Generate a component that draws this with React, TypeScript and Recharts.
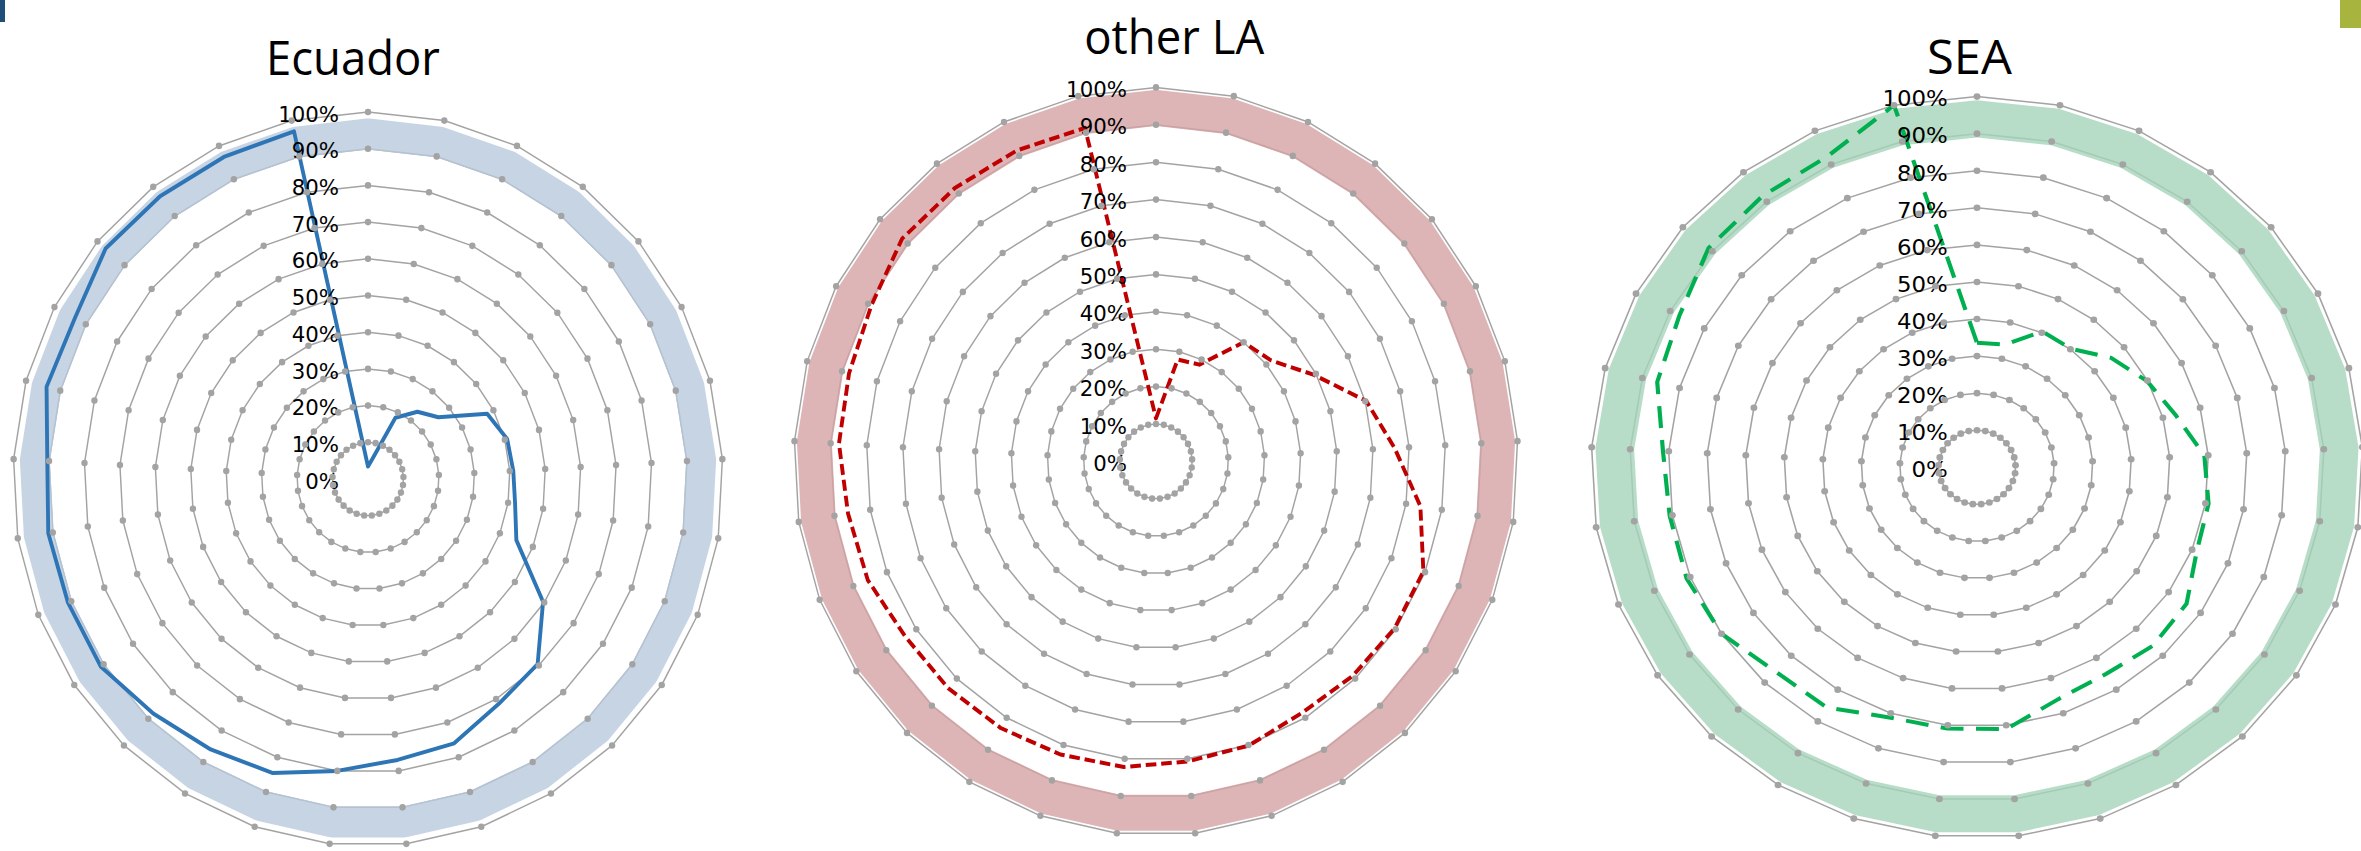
import { RadarChart, Radar, PolarAngleAxis, PolarRadiusAxis } from "recharts";

// 29 spokes, first one at 12 o'clock, running clockwise
const categories = [
  "1", "2", "3", "4", "5", "6", "7", "8", "9", "10",
  "11", "12", "13", "14", "15", "16", "17", "18", "19", "20",
  "21", "22", "23", "24", "25", "26", "27", "28", "29",
];

// dotted gray rings every 10%
const ringLevels = [10, 20, 30, 40, 50, 60, 70, 80, 90, 100];

// cumulative share (%) per spoke
const ecuadorShares = [
  3.4, 5.5, 18.4, 23, 26, 38, 40.7, 41, 42, 45,
  59.6, 69.5, 71.5, 76, 77, 80, 84.5, 86, 88, 91,
  91, 91.3, 90.5, 94, 93.5, 97, 96.8, 96.7, 97,
];
const otherLaShares = [
  11.5, 27.9, 28.5, 40, 41.7, 49.4, 60.3, 66, 74, 79.5,
  79.6, 79, 78.4, 80.2, 80.7, 82.2, 82.7, 83.2, 83.5, 83.6,
  85.7, 86.2, 87.7, 88, 89, 92, 91.8, 91.6, 91.3,
];
const seaShares = [
  33.6, 33.9, 40.4, 40.2, 45.6, 49.8, 53.3, 59, 60.8, 61.3,
  65.6, 66.3, 65, 66, 71, 70.9, 71.2, 75.6, 75.9, 80,
  81, 80.7, 81.5, 86, 87.3, 91.3, 91.9, 92.4, 100,
];

// wide translucent reference ring
const ecuadorBand = 94;
const otherLaBand = 94.5;
const seaBand = 94;

type Row = Record<string, string | number>;

function buildRows(values: number[], band: number): Row[] {
  return categories.map((cat, i) => {
    const row: Row = { cat, value: values[i], band };
    ringLevels.forEach((lvl) => {
      row[`ring${lvl}`] = lvl;
    });
    return row;
  });
}

type PanelProps = {
  title: string;
  values: number[];
  band: number;
  bandColor: string;
  bandWidth: number;
  lineColor: string;
  dash?: string;
  cx: number;
  cy: number;
  radius: number;
  scaleX: number;
  titleDx: number;
  titleBaseline: number;
  tickGap: number;
};

const PANEL_W = 800;
const PANEL_H = 851;
const RING_COLOR = "#a3a3a3";

const ringDot = (props: any) => (
  <circle key={`d-${props.dataKey}-${props.index}`} cx={props.cx} cy={props.cy} r={3.3} fill={RING_COLOR} />
);

function RadarPanel(p: PanelProps) {
  const rows = buildRows(p.values, p.band);
  return (
    <div
      style={{
        position: "absolute",
        left: p.cx - PANEL_W / 2,
        top: 0,
        width: PANEL_W,
        height: PANEL_H,
        transform: `scaleX(${p.scaleX})`,
        transformOrigin: "50% 0",
      }}
    >
      <RadarChart
        width={PANEL_W}
        height={PANEL_H}
        data={rows}
        cx={PANEL_W / 2}
        cy={p.cy}
        outerRadius={p.radius}
        startAngle={90}
        endAngle={-270}
        margin={{ top: 0, right: 0, bottom: 0, left: 0 }}
      >
        <PolarAngleAxis dataKey="cat" tick={false} axisLine={false} tickLine={false} />
        {ringLevels.map((lvl) => (
          <Radar
            key={lvl}
            dataKey={`ring${lvl}`}
            stroke={RING_COLOR}
            strokeWidth={1.5}
            fill="none"
            fillOpacity={0}
            dot={ringDot}
            isAnimationActive={false}
          />
        ))}
        <Radar
          dataKey="band"
          stroke={p.bandColor}
          strokeOpacity={0.8}
          strokeWidth={p.bandWidth}
          strokeLinejoin="round"
          fill="none"
          fillOpacity={0}
          dot={false}
          isAnimationActive={false}
        />
        <Radar
          dataKey="value"
          stroke={p.lineColor}
          strokeWidth={4}
          strokeDasharray={p.dash}
          strokeLinejoin="round"
          fill="none"
          fillOpacity={0}
          dot={false}
          isAnimationActive={false}
        />
        <PolarRadiusAxis
          angle={90}
          domain={[0, 100]}
          tickCount={11}
          axisLine={false}
          tickLine={false}
          tick={({ x, y, payload }: any) => (
            <text
              x={x - p.tickGap}
              y={y + 2}
              textAnchor="end"
              dominantBaseline="central"
              fontFamily="DejaVu Sans"
              fontSize={22}
              fill="#000"
            >
              {`${payload.value}%`}
            </text>
          )}
        />
      </RadarChart>
      <svg
        width={PANEL_W}
        height={100}
        style={{ position: "absolute", left: 0, top: 0, pointerEvents: "none" }}
      >
        <text
          x={PANEL_W / 2 + p.titleDx}
          y={p.titleBaseline}
          textAnchor="middle"
          fontFamily="Open Sans"
          fontSize={47}
          fill="#000"
        >
          {p.title}
        </text>
      </svg>
    </div>
  );
}

export default function App() {
  return (
    <div
      style={{
        position: "absolute",
        left: 0,
        top: 0,
        width: 2361,
        height: 851,
        background: "#fff",
        overflow: "hidden",
      }}
    >
      <div style={{ position: "absolute", left: 0, top: 0, width: 5, height: 22, background: "#1f4e79" }} />
      <div style={{ position: "absolute", left: 2340, top: 0, width: 21, height: 28, background: "#a7b43e" }} />
      <RadarPanel
        title="Ecuador"
        values={ecuadorShares}
        band={ecuadorBand}
        bandColor="#b8c9dd"
        bandWidth={31}
        lineColor="#2e75b6"
        cx={368}
        cy={479}
        radius={367}
        scaleX={0.967}
        titleDx={-15.5}
        titleBaseline={75}
        tickGap={30}
      />
      <RadarPanel
        title="other LA"
        values={otherLaShares}
        band={otherLaBand}
        bandColor="#d6a3a4"
        bandWidth={36}
        lineColor="#c00000"
        dash="11 5"
        cx={1156.3}
        cy={461.4}
        radius={374}
        scaleX={0.968}
        titleDx={18.8}
        titleBaseline={54}
        tickGap={30}
      />
      <RadarPanel
        title="SEA"
        values={seaShares}
        band={seaBand}
        bandColor="#a5d3b9"
        bandWidth={37}
        lineColor="#00b050"
        dash="22 12"
        cx={1976.5}
        cy={467.3}
        radius={370.7}
        scaleX={1.041}
        titleDx={-7.2}
        titleBaseline={74}
        tickGap={28}
      />
    </div>
  );
}
